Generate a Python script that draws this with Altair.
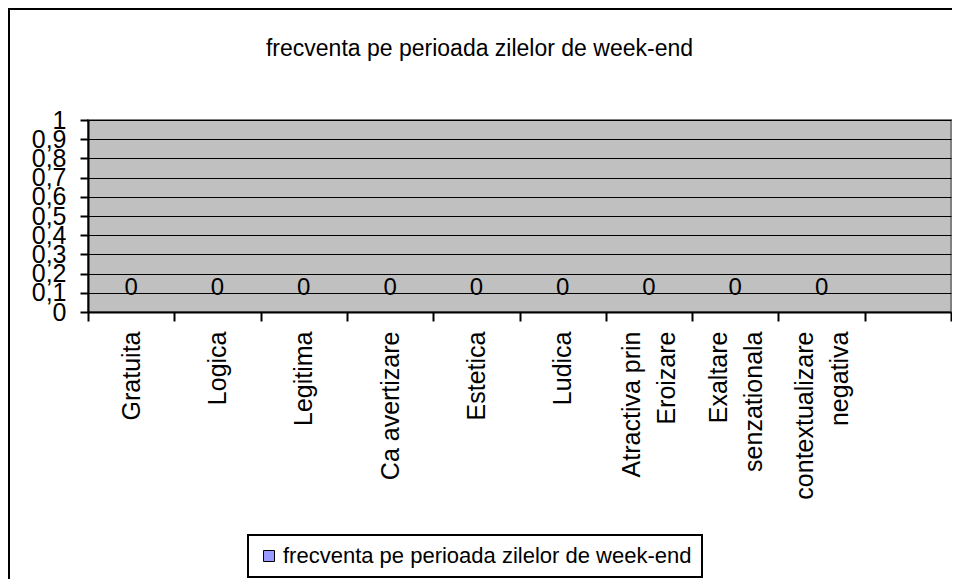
import altair as alt
import pandas as pd

# ---- data ----
chart_title = "frecventa pe perioada zilelor de week-end"
series_name = "frecventa pe perioada zilelor de week-end"
categories = [
    "Gratuita",
    "Logica",
    "Legitima",
    "Ca avertizare",
    "Estetica",
    "Ludica",
    "Atractiva prin|Eroizare",
    "Exaltare|senzationala",
    "contextualizare|negativa",
]
values = [0, 0, 0, 0, 0, 0, 0, 0, 0]
empty_slots = [" "]
y_ticks = [0, 0.1, 0.2, 0.3, 0.4, 0.5, 0.6, 0.7, 0.8, 0.9, 1]

FONT = "Liberation Sans"
BAR_COLOR = "#9999FF"

df = pd.DataFrame({"categorie": categories, "frecventa": values, "serie": [series_name] * len(categories)})
x_domain = categories + empty_slots

x_enc = alt.X(
    "categorie:N",
    sort=x_domain,
    scale=alt.Scale(domain=x_domain, paddingInner=0, paddingOuter=0),
    title=None,
    axis=alt.Axis(
        tickBand="extent",
        labelAngle=270,
        labelAlign="right",
        labelBaseline="middle",
        labelExpr="split(datum.label, '|')",
        labelFontSize=25,
        labelLineHeight=35,
        labelPadding=10,
        labelOffset={"condition": {"test": "indexof(datum.label, '|') >= 0", "value": -17}, "value": 0},
        labelOverlap=False,
        labelFlush=False,
        labelLimit=0,
        tickSize=9,
        tickWidth=2,
        domainWidth=2,
    ),
)
y_enc = alt.Y(
    "frecventa:Q",
    scale=alt.Scale(domain=[0, 1], nice=False),
    title=None,
    axis=alt.Axis(
        values=y_ticks,
        labelExpr="replace(format(datum.value, '.1~f'), '.', ',')",
        labelFontSize=25,
        labelPadding=14,
        labelOverlap=False,
        labelFlush=False,
        tickSize=8,
        tickWidth=2,
        domainWidth=2,
        grid=True,
        gridColor="black",
        gridWidth=1,
        gridOpacity=1,
    ),
)

base = alt.Chart(df)

bars = base.mark_bar().encode(
    x=x_enc,
    y=y_enc,
    color=alt.Color(
        "serie:N",
        scale=alt.Scale(range=[BAR_COLOR]),
        title=None,
        legend=alt.Legend(
            orient="none",
            legendX=160,
            legendY=415,
            symbolType="square",
            symbolSize=121,
            symbolStrokeColor="black",
            symbolStrokeWidth=1,
            labelFontSize=22,
            labelFont=FONT,
            labelColor="black",
            labelLimit=0,
            labelOffset=3,
            padding=10,
            fillColor="white",
            strokeColor="black",
        ),
    ),
)

labels = base.mark_text(
    dy=-17, baseline="alphabetic", fontSize=24, font=FONT, color="black"
).encode(x=x_enc, y=y_enc, text=alt.Text("frecventa:Q"))

frame = alt.Chart(alt.Data(values=[{"k": 1}])).mark_rect(
    filled=False, stroke="black", strokeWidth=2
).encode(
    x=alt.value(-79), y=alt.value(-111), x2=alt.value(1300), y2=alt.value(1000)
)

chart = (
    alt.layer(bars, labels, frame)
    .properties(
        width=863,
        height=192,
        autosize=alt.AutoSizeParams(type="none"),
        padding={"left": 80, "top": 112, "right": 1, "bottom": 267},
        title=alt.TitleParams(
            text=chart_title,
            fontSize=23,
            font=FONT,
            fontWeight="normal",
            color="black",
            anchor="middle",
            baseline="alphabetic",
            dx=-40,
            offset=-71,
        ),
    )
    .configure(background="white")
    .configure_axis(
        labelFont=FONT,
        labelColor="black",
        domainColor="black",
        tickColor="black",
    )
    .configure_legend(strokeWidth=2)
    .configure_view(fill="#C0C0C0", stroke="#808080", strokeWidth=2)
)

chart.save("out.html", embed_options={"renderer": "svg", "actions": False})
